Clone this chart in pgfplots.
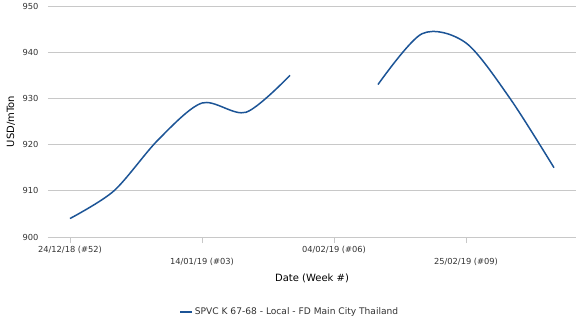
\documentclass[border=0pt]{standalone}
\usepackage{fontspec}
\setmainfont{DejaVu Sans}
\usepackage{pgfplots}
\pgfplotsset{compat=1.18}
\definecolor{linec}{RGB}{28,84,150}
\definecolor{gridc}{RGB}{200,200,200}
\definecolor{txt}{RGB}{51,51,51}
\begin{document}
\begin{tikzpicture}[x=1pt,y=1pt]
\useasboundingbox (-48,-95) rectangle (528,237);
\begin{axis}[
  at={(0,0)}, anchor=south west,
  scale only axis, width=528pt, height=231pt,
  xmin=-0.5, xmax=11.5, ymin=900, ymax=950,
  ytick={900,910,...,950},
  ymajorgrids, grid style={gridc, line width=0.8pt},
  axis x line*=bottom, axis y line*=left,
  x axis line style={gridc, line width=0.8pt, -},
  y axis line style={draw=none},
  ytick style={draw=none},
  xtick style={gridc, line width=0.8pt},
  xtick align=outside, major tick length=6pt,
  xtick={0,6},
  xticklabels={24/12/18 (\#52), 04/02/19 (\#06)},
  extra x ticks={3,9},
  extra x tick labels={14/01/19 (\#03), 25/02/19 (\#09)},
  extra x tick style={grid=none, xticklabel style={yshift=-12pt}},
  tick label style={font=\fontsize{8.3}{10}\selectfont, text=txt},
  yticklabel style={xshift=-6pt},
  /pgf/number format/assume math mode=true,
  xlabel={Date (Week \#)},
  ylabel={USD/mTon},
  label style={font=\fontsize{8.7}{10}\selectfont, text=txt},
  every axis x label/.style={at={(axis description cs:0.5,-0.18)}, anchor=center},
  every axis y label/.style={at={(axis description cs:-0.0701,0.5)}, rotate=90, anchor=center},
  legend style={at={(axis description cs:0.458,-0.325)}, anchor=center, draw=none,
    font=\fontsize{9.1}{11}\selectfont, text=txt},
  legend image code/.code={\draw[#1, line width=1.5pt] (0pt,0pt) -- (12pt,0pt);},
  unbounded coords=jump,
]
\addplot[linec, line width=1.5pt, smooth, no markers] coordinates {
  (0,904) (1,910) (2,921) (3,929) (4,927) (5,935) (6,nan)
  (7,933) (8,944) (9,942) (10,930) (11,915)
};
\addlegendentry{SPVC K 67-68 - Local - FD Main City Thailand}
\end{axis}
\end{tikzpicture}
\end{document}
